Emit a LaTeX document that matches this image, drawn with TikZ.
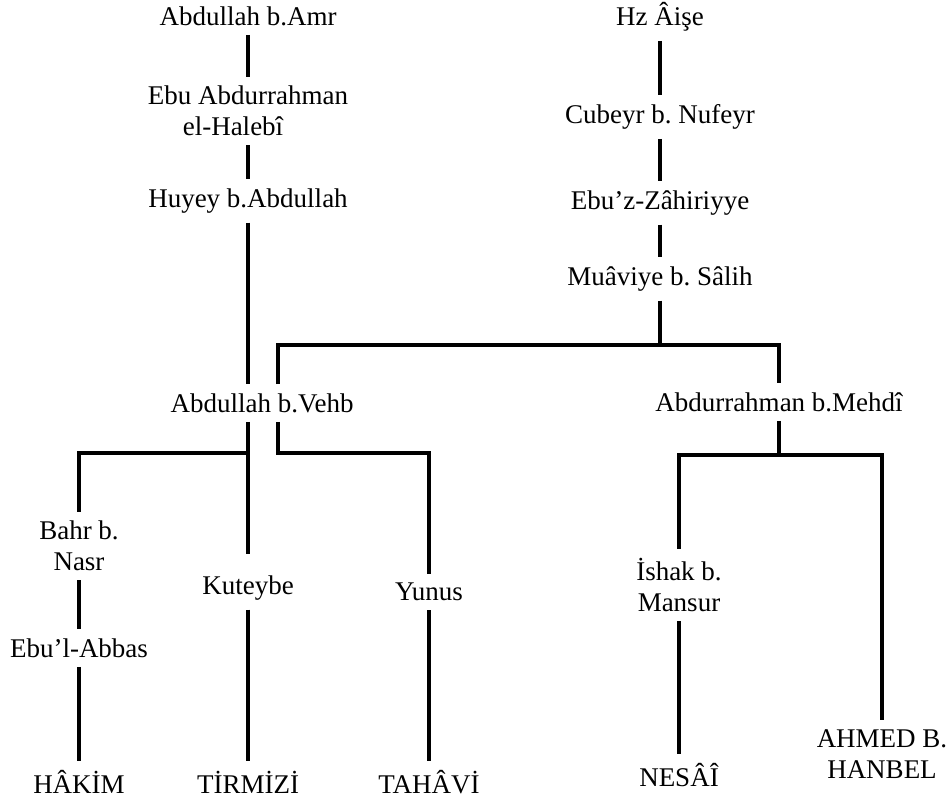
\documentclass[tikz,border=0pt]{standalone}
\usepackage{fontspec}
\setmainfont{Liberation Serif}
\usepackage{tikz}
\usetikzlibrary{arrows}
\frenchspacing
\tikzset{
  isim/.style={font=\fontsize{13.5pt}{15.5pt}\selectfont, inner sep=4.5pt, align=center},
  hat/.style={line width=2pt}
}

\begin{document}
\begin{tikzpicture}[x=0.5pt,y=-0.5pt]
  \useasboundingbox (0,0) rectangle (949,798);
  % sol kol
  \node [isim] (amr) at (248,16) {Abdullah b.Amr};
  \node [isim] (halebi) at (248,111) {Ebu Abdurrahman\\el-Halebî\hspace*{15pt}};
  \node [isim] (huyey) at (248,201) {Huyey b.Abdullah};
  \node [isim] (vehb) at (262,403) {Abdullah b.Vehb};
  % sag kol
  \node [isim] (aise) at (660,17) {Hz Âişe};
  \node [isim] (cubeyr) at (660,117) {Cubeyr b. Nufeyr};
  \node [isim] (zahiriyye) at (660,203) {Ebu’z-Zâhiriyye};
  \node [isim] (muaviye) at (660,279) {Muâviye b. Sâlih};
  \node [isim] (mehdi) at (779,402) {Abdurrahman b.Mehdî};
  % alt sira
  \node [isim] (bahr) at (79,546) {Bahr b.\\Nasr};
  \node [isim] (abbas) at (79,648) {Ebu’l-Abbas};
  \node [isim] (hakim) at (79,782) {HÂKİM};
  \node [isim] (kuteybe) at (248,588) {Kuteybe};
  \node [isim] (tirmizi) at (248,782) {TİRMİZİ};
  \node [isim] (yunus) at (429,592) {Yunus};
  \node [isim] (tahavi) at (429,782) {TAHÂVİ};
  \node [isim] (ishak) at (679,585) {İshak b.\\Mansur};
  \node [isim] (nesai) at (679,775) {NESÂÎ};
  \node [isim] (hanbel) at (882,754) {AHMED B.\\HANBEL};

  \coordinate (vl) at (278,345);
  \coordinate (vj) at (248,453);
  \coordinate (vr) at (278,453);
  \coordinate (mj) at (779,455);

  \draw [hat] (amr) -- (halebi);
  \draw [hat] (halebi) -- (huyey);
  \draw [hat] (huyey) -- (huyey |- vehb.north);
  \draw [hat] (aise) -- (cubeyr);
  \draw [hat] (cubeyr) -- (zahiriyye);
  \draw [hat] (zahiriyye) -- (muaviye);
  \draw [hat] (muaviye) -- (muaviye |- vl);
  \draw [hat] (vehb.north -| vl) -- (vl) -| (mehdi);

  \draw [hat, shorten >=6pt] (huyey |- vehb.south) -- (kuteybe);
  \draw [hat] (bahr) |- (vj);
  \draw [hat] (vehb.south -| vr) -- (vr) -| (yunus);
  \draw [hat] (bahr) -- (abbas);
  \draw [hat] (abbas) -- (hakim);
  \draw [hat] (kuteybe) -- (tirmizi);
  \draw [hat] (yunus) -- (tahavi);

  \draw [hat] (mehdi) -- (mj);
  \draw [hat] (ishak) |- (mj) -| (hanbel);
  \draw [hat] (ishak) -- (nesai);
\end{tikzpicture}
\end{document}
